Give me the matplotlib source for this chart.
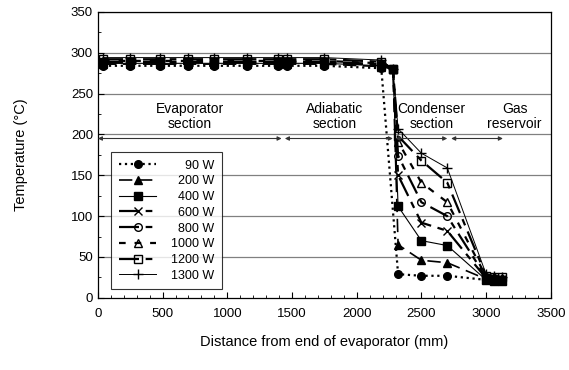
import numpy as np
import matplotlib
matplotlib.use('Agg')
import matplotlib.pyplot as plt

plt.rcParams['font.family'] = ['Liberation Sans', 'DejaVu Sans']

# positions along the pipe (mm)
x_evap = [40, 250, 480, 700, 900, 1150, 1390, 1460, 1750, 2190, 2280]
x_cond = [2320, 2500, 2700]
x_gas = [3000, 3060, 3120]

labels = ['90 W', '200 W', '400 W', '600 W', '800 W', '1000 W', '1200 W', '1300 W']
t_evap = [284, 286, 287, 288, 289, 290, 292, 294]   # plateau temperature
t_cond = [[29, 27, 27], [65, 46, 43], [112, 70, 64], [150, 92, 82],
          [174, 117, 100], [191, 141, 117], [198, 168, 141], [207, 177, 159]]
t_gas = [[22, 21, 21], [23, 22, 22], [22, 21, 21], [24, 23, 23],
         [25, 24, 23], [26, 25, 24], [27, 26, 25], [29, 27, 26]]

styles = [
    dict(ls=':', lw=1.6, marker='o', mfc='black', ms=5.5),
    dict(ls=(0, (8, 4)), lw=1.2, marker='^', mfc='black', ms=5.5),
    dict(ls='-', lw=0.8, marker='s', mfc='black', ms=5.5),
    dict(ls=(0, (9, 3, 3, 3)), lw=1.6, marker='x', mfc='none', ms=5.5),
    dict(ls=(0, (9, 3, 3, 3)), lw=1.6, marker='o', mfc='none', ms=5.5),
    dict(ls=(0, (3, 4)), lw=1.6, marker='^', mfc='none', ms=5.5),
    dict(ls=(0, (9, 3, 3, 3)), lw=1.6, marker='s', mfc='none', ms=5.5),
    dict(ls='-', lw=0.7, marker='+', mfc='none', ms=7),
]

fig = plt.figure(figsize=(5.69, 3.70), dpi=100)
ax = fig.add_axes([0.172, 0.195, 0.796, 0.773])

for i, lab in enumerate(labels):
    te = [t_evap[i]] * (len(x_evap) - 2) + [t_evap[i] - 3, 280]
    xs = list(x_evap)
    if i == 0:
        xs = xs[:-1]
        te = te[:-1]
    x = xs + x_cond + x_gas
    y = te + t_cond[i] + t_gas[i]
    # pad with figure spaces so the labels line up on the right
    ax.plot(x, y, color='black', mec='black', label=lab.rjust(6, '\u2007'), **styles[i])

for v in range(50, 351, 50):
    ax.axhline(v, color='#808080', lw=0.9, zorder=0)

# section arrows
arrows = [(0, 1420), (1445, 2280), (2300, 2700), (2730, 3130)]
for a, b in arrows:
    ax.annotate('', xy=(a, 195), xytext=(b, 195),
                arrowprops=dict(arrowstyle='<|-|>', color='#333333', lw=0.8,
                                mutation_scale=6, shrinkA=0, shrinkB=0))

sec_x = [710, 1830, 2580, 3220]
sec_txt = ['Evaporator\nsection', 'Adiabatic\nsection', 'Condenser\nsection', 'Gas\nreservoir']
for sx, st in zip(sec_x, sec_txt):
    ax.text(sx, 222, st, ha='center', va='center', fontsize=10, linespacing=1.15)

ax.set_xlim(0, 3500)
ax.set_ylim(0, 350)
ax.set_xticks(np.arange(0, 3501, 500))
ax.set_yticks(np.arange(0, 351, 50))
ax.set_xticks(np.arange(0, 3501, 100), minor=True)
ax.set_yticks(np.arange(0, 351, 25), minor=True)
ax.tick_params(which='both', direction='in', labelsize=9.5, top=False, right=False)
ax.tick_params(which='major', length=4)
ax.tick_params(which='minor', length=2.5)
ax.tick_params(axis='x', pad=7)
for s in ax.spines.values():
    s.set_linewidth(0.9)

ax.set_xlabel('Distance from end of evaporator (mm)', fontsize=10.5, labelpad=11)
ax.set_ylabel('Temperature (\u00b0C)', fontsize=10.5, labelpad=31)

leg = ax.legend(loc='lower left', bbox_to_anchor=(0.03, 0.03), borderaxespad=0,
                fontsize=9, frameon=True, fancybox=False, edgecolor='black',
                handlelength=3.0, labelspacing=0.3, borderpad=0.6, handletextpad=1.2)
leg.get_frame().set_linewidth(0.8)

fig.savefig('out.png', dpi=100)
